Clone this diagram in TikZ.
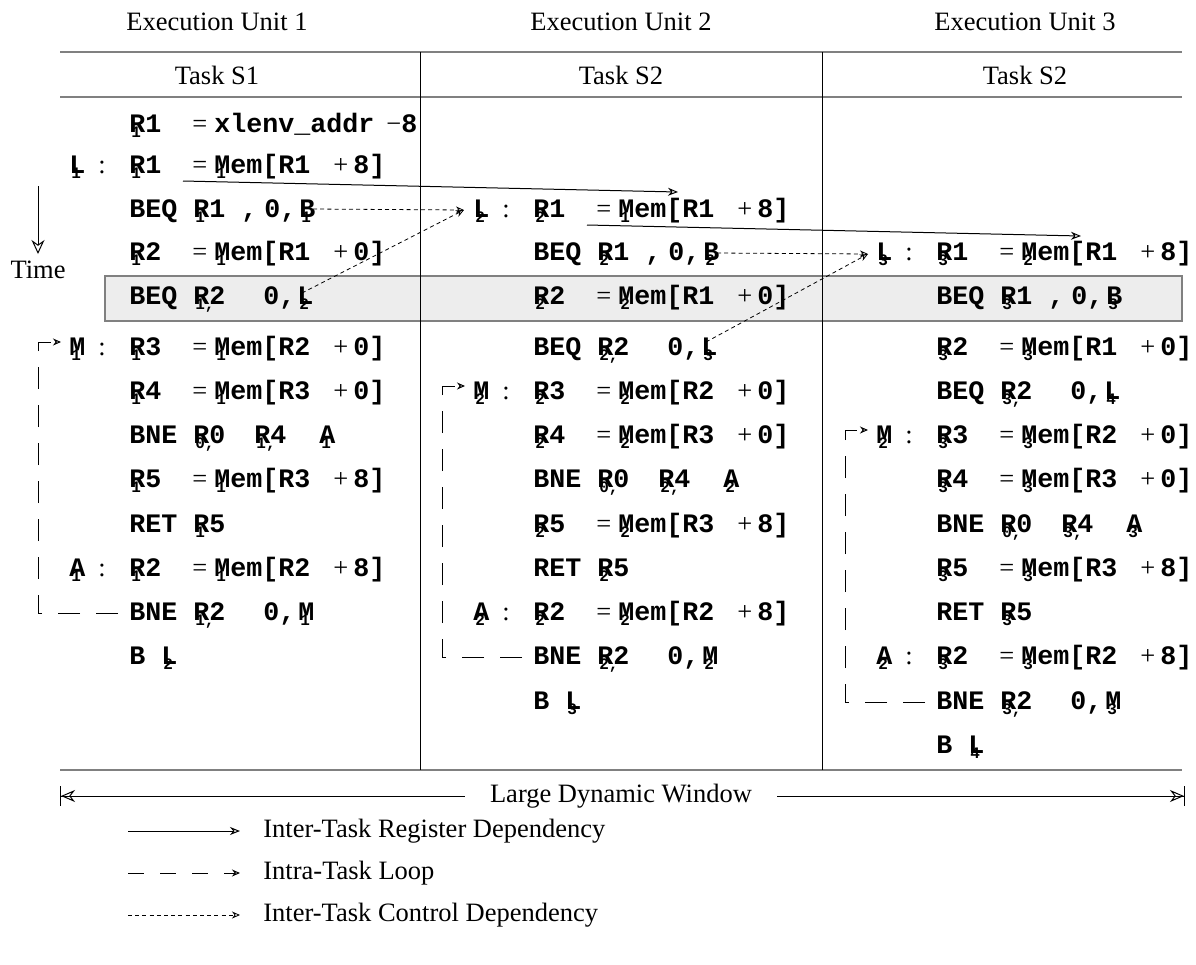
\documentclass[tikz,border=0pt]{standalone}
\usepackage{fontspec}
\setmainfont{Liberation Serif}
\newfontfamily\monof{Liberation Mono}
\usetikzlibrary{arrows.meta}
\newlength\px \setlength\px{0.5pt}
\newcommand\cd{\monof\bfseries\fontsize{13.33}{16}\selectfont}
\newcommand\rmt[1]{{\rmfamily\mdseries\fontsize{13.25}{16}\selectfont #1}}
\newcommand\sx[2]{\makebox[0pt][l]{\kern2\px\raisebox{-5\px}{\monof\bfseries\fontsize{8}{9}\selectfont #2}}#1}
\newcommand\at[2]{\makebox[0pt][l]{\kern#1\px #2}}
\newcommand\memline[5]{\at{0}{\sx{R}{#1}#2}\at{63}{\rmt{=}}\at{85}{\sx{M}{#3}em[R#4}\at{204}{\rmt{+}}\at{224}{#5]}}
\newcommand\beqA[1]{\at{0}{BEQ \sx{R}{#1}1}\at{112}{,}\at{135}{0,}\at{170}{\sx{B}{#1}}}
\newcommand\beqB[2]{\at{0}{BEQ \sx{R}{#1,}2}\at{134}{0,}\at{168}{\sx{L}{#2}}}
\newcommand\bneA[2]{\at{0}{BNE \sx{R}{0,}0}\at{125}{\sx{R}{#1,}4}\at{190}{\sx{A}{#2}}}
\newcommand\bneB[2]{\at{0}{BNE \sx{R}{#1,}2}\at{134}{0,}\at{169}{\sx{M}{#2}}}
\newcommand\retl[1]{\at{0}{RET \sx{R}{#1}5}}
\newcommand\bl[1]{\at{0}{B \sx{L}{#1}}}
\newcommand\lab[2]{\at{0}{\sx{#1}{#2}}\at{29}{\rmt{:}}}
\tikzset{
  code/.style={anchor=base west, inner sep=0pt, font=\cd},
  hdr/.style={inner sep=0pt, font=\fontsize{13.25}{16}\selectfont},
  leg/.style={anchor=west, inner sep=0pt, font=\fontsize{13.25}{16}\selectfont},
  grayline/.style={draw=black!50, line width=1pt},
  colline/.style={draw=black, line width=0.5pt},
  hilite/.style={draw=black!50, line width=0.8pt, fill=black!7},
  regdep/.style={draw=black, line width=0.5pt, -{Stealth[open,length=5pt,width=4pt]}},
  ctrldep/.style={draw=black, line width=0.4pt, dash pattern=on 2pt off 1.6pt, -{Stealth[open,length=4pt,width=3.5pt]}},
  loopdep/.style={draw=black, line width=0.5pt, dash pattern=on 11pt off 8pt, -{Stealth[open,length=4pt,width=3.5pt]}},
  timearr/.style={draw=black, line width=0.5pt, -{Stealth[open,length=7pt,width=6.5pt]}},
  winarr/.style={draw=black, line width=0.5pt, -{Stealth[open,length=7pt,width=6pt] Bar[width=10pt]}}
}
\begin{document}
\begin{tikzpicture}[x=0.5pt,y=-0.5pt]
\useasboundingbox (0,0) rectangle (1196,965);
% headers
\node[hdr] (eu1) at (217,22) {Execution Unit 1};
\node[hdr] (eu2) at (621,22) {Execution Unit 2};
\node[hdr] (eu3) at (1025,22) {Execution Unit 3};
\node[hdr] (ts1) at (217,75) {Task S1};
\node[hdr] (ts2) at (621,75) {Task S2};
\node[hdr] (ts3) at (1025,75) {Task S2};
% highlight box
\draw[hilite] (105,276) rectangle (1182,321);
% table lines
\draw[grayline] (60,52) -- (1182,52);
\draw[grayline] (60,97) -- (1182,97);
\draw[grayline] (60,770) -- (1182,770);
\draw[colline] (420,52) -- (420,770);
\draw[colline] (822,52) -- (822,770);
% column 1
\node[code] (a0) at (128,132) {\at{0}{\sx{R}{1}1}\at{63}{\rmt{=}}\at{85}{xlenv\_addr}\at{257}{\rmt{−}}\at{272}{8}};
\node[code] (la1) at (68,173) {\lab{L}{1}};
\node[code] (a1) at (128,173) {\memline{1}{1}{1}{1}{8}};
\node[code] (a2) at (128,217) {\beqA{1}};
\node[code] (a3) at (128,260) {\memline{1}{2}{1}{1}{0}};
\node[code] (a4) at (128,304) {\beqB{1}{2}};
\node[code] (lm1) at (68,355) {\lab{M}{1}};
\node[code] (a5) at (128,355) {\memline{1}{3}{1}{2}{0}};
\node[code] (a6) at (128,399) {\memline{1}{4}{1}{3}{0}};
\node[code] (a7) at (128,443) {\bneA{1}{1}};
\node[code] (a8) at (128,487) {\memline{1}{5}{1}{3}{8}};
\node[code] (a9) at (128,532) {\retl{1}};
\node[code] (lA1) at (68,576) {\lab{A}{1}};
\node[code] (a10) at (128,576) {\memline{1}{2}{1}{2}{8}};
\node[code] (a11) at (128,620) {\bneB{1}{1}};
\node[code] (a12) at (128,664) {\bl{2}};
% column 2
\node[code] (la2) at (472,217) {\lab{L}{2}};
\node[code] (b2) at (532,217) {\memline{2}{1}{1}{1}{8}};
\node[code] (b3) at (532,260) {\beqA{2}};
\node[code] (b4) at (532,304) {\memline{2}{2}{2}{1}{0}};
\node[code] (b5) at (532,355) {\beqB{2}{3}};
\node[code] (lm2) at (472,399) {\lab{M}{2}};
\node[code] (b6) at (532,399) {\memline{2}{3}{2}{2}{0}};
\node[code] (b7) at (532,443) {\memline{2}{4}{2}{3}{0}};
\node[code] (b8) at (532,487) {\bneA{2}{2}};
\node[code] (b9) at (532,532) {\memline{2}{5}{2}{3}{8}};
\node[code] (b10) at (532,576) {\retl{2}};
\node[code] (lA2) at (472,620) {\lab{A}{2}};
\node[code] (b11) at (532,620) {\memline{2}{2}{2}{2}{8}};
\node[code] (b12) at (532,664) {\bneB{2}{2}};
\node[code] (b13) at (532,709) {\bl{3}};
% column 3
\node[code] (la3) at (875,260) {\lab{L}{3}};
\node[code] (c3) at (935,260) {\memline{3}{1}{2}{1}{8}};
\node[code] (c4) at (935,304) {\beqA{3}};
\node[code] (c5) at (935,355) {\memline{3}{2}{3}{1}{0}};
\node[code] (c6) at (935,399) {\beqB{3}{4}};
\node[code] (lm3) at (875,443) {\lab{M}{2}};
\node[code] (c7) at (935,443) {\memline{3}{3}{3}{2}{0}};
\node[code] (c8) at (935,487) {\memline{3}{4}{3}{3}{0}};
\node[code] (c9) at (935,532) {\bneA{3}{3}};
\node[code] (c10) at (935,576) {\memline{3}{5}{3}{3}{8}};
\node[code] (c11) at (935,620) {\retl{3}};
\node[code] (lA3) at (875,664) {\lab{A}{2}};
\node[code] (c12) at (935,664) {\memline{3}{2}{3}{2}{8}};
\node[code] (c13) at (935,709) {\bneB{3}{3}};
\node[code] (c14) at (935,753) {\bl{4}};
% register dependencies
\coordinate (r1s) at (183,181);
\coordinate (r1e) at (678,192);
\coordinate (r2s) at (587,225);
\coordinate (r2e) at (1081,236);
\draw[regdep] (r1s) -- (r1e);
\draw[regdep] (r2s) -- (r2e);
% control dependencies
\coordinate (k1a) at (313,209);
\coordinate (k1b) at (302,293);
\coordinate (k1t) at (464,210);
\coordinate (k2a) at (717,253);
\coordinate (k2b) at (706,342);
\coordinate (k2t) at (868,254);
\draw[ctrldep] (k1a) -- (k1t);
\draw[ctrldep] (k1b) -- (k1t);
\draw[ctrldep] (k2a) -- (k2t);
\draw[ctrldep] (k2b) -- (k2t);
% loops
\coordinate (p1s) at (118,613);
\coordinate (p1t) at (61,342);
\draw[loopdep] (p1s) -- (38,613) -- (38,342) -- (p1t);
\coordinate (p2s) at (522,657);
\coordinate (p2t) at (465,386);
\draw[loopdep] (p2s) -- (442,657) -- (442,386) -- (p2t);
\coordinate (p3s) at (925,702);
\coordinate (p3t) at (868,430);
\draw[loopdep] (p3s) -- (845,702) -- (845,430) -- (p3t);
% time
\coordinate (t0) at (38,186);
\coordinate (t1) at (38,254);
\draw[timearr] (t0) -- (t1);
\node[hdr] (time) at (38,270) {Time};
% large dynamic window
\node[hdr, inner xsep=12.5pt] (ldw) at (621,796) {Large Dynamic Window};
\coordinate (wl) at (60,796);
\coordinate (wr) at (1185,796);
\draw[winarr] (ldw.west) -- (wl);
\draw[winarr] (ldw.east) -- (wr);
% legend
\coordinate (g1a) at (128,831); \coordinate (g1b) at (240,831);
\coordinate (g2a) at (128,873); \coordinate (g2b) at (240,873);
\coordinate (g3a) at (128,915); \coordinate (g3b) at (240,915);
\draw[regdep] (g1a) -- (g1b);
\draw[loopdep, dash pattern=on 8pt off 8pt] (g2a) -- (g2b);
\draw[ctrldep] (g3a) -- (g3b);
\node[leg] (l1) at (263,831) {Inter-Task Register Dependency};
\node[leg] (l2) at (263,873) {Intra-Task Loop};
\node[leg] (l3) at (263,915) {Inter-Task Control Dependency};
\end{tikzpicture}
\end{document}
